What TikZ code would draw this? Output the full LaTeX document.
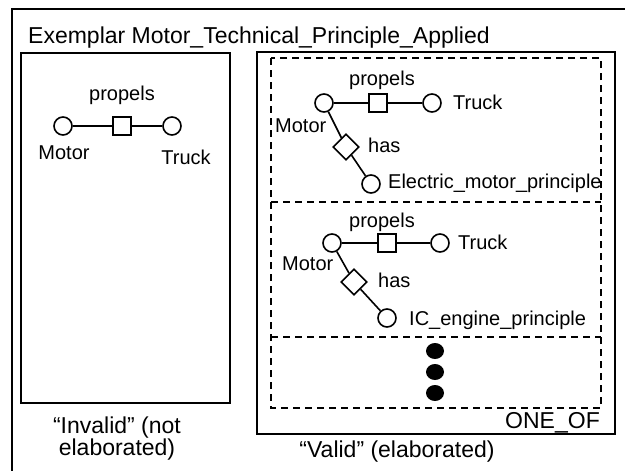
\documentclass[tikz,border=0pt]{standalone}
\usepackage{fontspec}
\setmainfont{Liberation Sans}
\usetikzlibrary{shapes.geometric}
\begin{document}
\begin{tikzpicture}[x=1pt,y=-1pt,
  ent/.style={circle,draw,line width=1.6pt,minimum size=18pt,inner sep=0pt},
  relsq/.style={rectangle,draw,line width=1.6pt,minimum size=18pt,inner sep=0pt},
  reldi/.style={diamond,draw,line width=1.6pt,minimum size=26pt,inner sep=0pt},
  lbl/.style={font=\fontsize{20}{24}\selectfont,inner sep=0pt},
  big/.style={font=\fontsize{23}{27}\selectfont,inner sep=0pt},
  conn/.style={line width=1.6pt},
  box/.style={draw,line width=1.8pt},
  dbox/.style={draw,line width=1.8pt,dash pattern=on 7pt off 5pt},
  dotf/.style={ellipse,fill=black,minimum width=18pt,minimum height=16pt,inner sep=0pt}]
\useasboundingbox (0,0) rectangle (625,471);
\clip (0,0) rectangle (625,471);
% outer frame
\draw[line width=2.4pt] (12,9) rectangle (700,600);
\node[big,anchor=base west] (title) at (28,43) {Exemplar Motor\_Technical\_Principle\_Applied};
% left box
\draw[box] (21,53) rectangle (230,403);
\node[ent] (lm) at (63,126) {};
\node[relsq] (lp) at (122,126) {};
\node[ent] (lt) at (172,126) {};
\draw[conn] (lm) -- (lp) -- (lt);
\node[lbl,anchor=base] (lpl) at (122,100) {propels};
\node[lbl,anchor=base] (lml) at (64,159) {Motor};
\node[lbl,anchor=base] (ltl) at (186,164) {Truck};
\node[big,anchor=base] (inv1) at (117,433) {“Invalid” (not};
\node[big,anchor=base] (inv2) at (117,455) {elaborated)};
% right box
\draw[box] (257,52) rectangle (615,434);
\draw[dbox] (271,58) rectangle (601,408);
\draw[dbox] (271,202) -- (601,202);
\draw[dbox] (271,337) -- (601,337);
% panel 1
\node[ent] (am) at (324,103) {};
\node[relsq] (ap) at (378,103) {};
\node[ent] (at) at (432,103) {};
\node[reldi] (ah) at (346,147) {};
\node[ent] (ae) at (371,184) {};
\draw[conn] (am) -- (ap) -- (at);
\draw[conn] (am) -- (ah) -- (ae);
\node[lbl,anchor=base] (apl) at (382,85) {propels};
\node[lbl,anchor=base west] (atl) at (453,109) {Truck};
\node[lbl,anchor=base west] (aml) at (275,132) {Motor};
\node[lbl,anchor=base west] (ahl) at (368,152) {has};
\node[lbl,anchor=base west] (ael) at (388,188) {Electric\_motor\_principle};
% panel 2
\node[ent] (bm) at (332,243) {};
\node[relsq] (bp) at (387,243) {};
\node[ent] (bt) at (440,243) {};
\node[reldi] (bh) at (354,282) {};
\node[ent] (be) at (387,318) {};
\draw[conn] (bm) -- (bp) -- (bt);
\draw[conn] (bm) -- (bh) -- (be);
\node[lbl,anchor=base] (bpl) at (382,227) {propels};
\node[lbl,anchor=base west] (btl) at (458,249) {Truck};
\node[lbl,anchor=base west] (bml) at (282,270) {Motor};
\node[lbl,anchor=base west] (bhl) at (378,287) {has};
\node[lbl,anchor=base west] (bel) at (409,325) {IC\_engine\_principle};
% dots
\node[dotf] (d1) at (435,351) {};
\node[dotf] (d2) at (435,372) {};
\node[dotf] (d3) at (435,393) {};
\node[big,anchor=base east] (oneof) at (600,428) {ONE\_OF};
\node[big,anchor=base] (val) at (397,457) {“Valid” (elaborated)};
\end{tikzpicture}
\end{document}
